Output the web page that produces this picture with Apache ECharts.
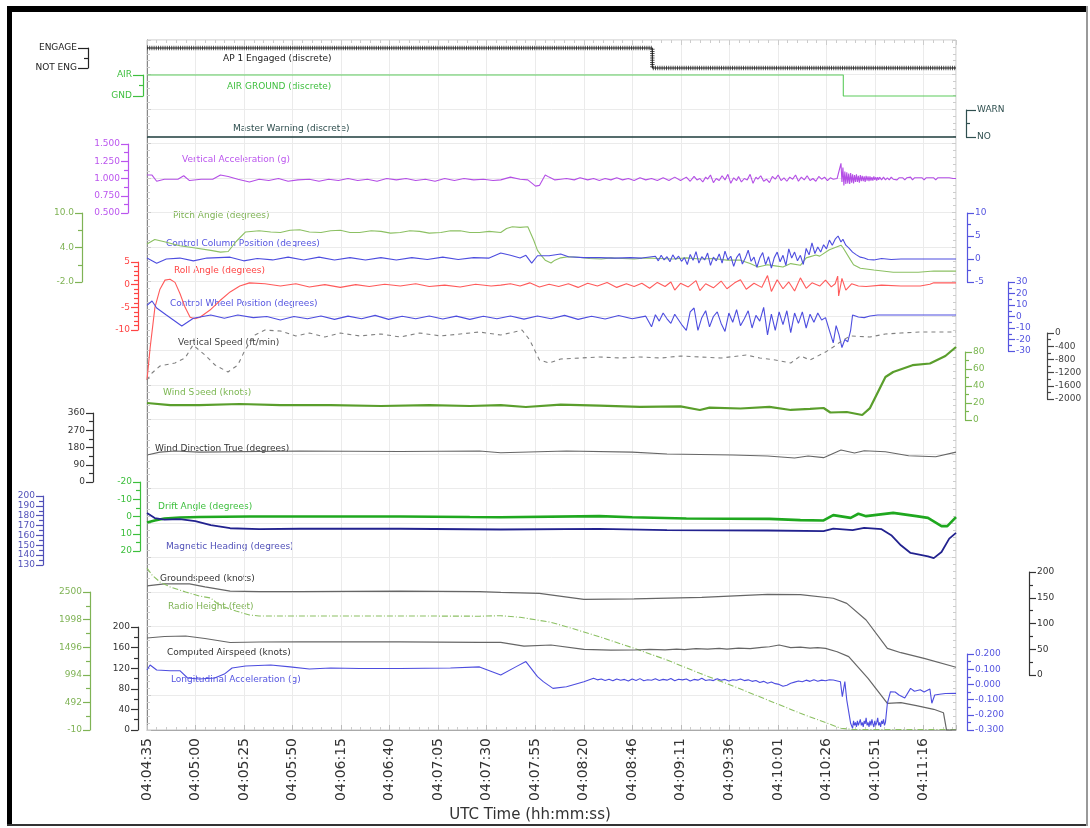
<!DOCTYPE html>
<html>
<head>
<meta charset="utf-8">
<title>Flight data recorder plot</title>
<script src="https://cdn.jsdelivr.net/npm/echarts@6/dist/echarts.min.js"></script>
<style>
html, body { margin: 0; padding: 0; background: #fff; }
#chart { width: 1090px; height: 828px; }
</style>
</head>
<body>
<div id="chart"></div>
<script>
// x values are seconds after 04:04:35 UTC
const startSec = 4 * 3600 + 4 * 60 + 35;
const tickStep = 25.105;
const timeMax = 418.5;

const apEngaged = [[0, 1], [261.4, 1], [261.4, 0], [418.5, 0]];
const airGround = [[0, 1], [360.2, 1], [360.2, 0], [418.5, 0]];
const masterWarning = [[0, 0], [418.5, 0]];

const vertAccel = [[0,1.05],[2.6,1.05],[5,0.96],[9,0.99],[16,0.99],[19,1.04],[22,0.97],[28,0.99],[34,0.99],[38,1.05],[42,1.03],[47,0.99],[53,0.95],[58,0.99],[63,0.97],[68,1.0],[73,0.96],[78,0.98],[84,0.99],[89,0.96],[94,0.99],[99,0.97],[104,1.0],[109,0.97],[114,0.99],[119,0.96],[124,1.0],[129,0.98],[134,1.0],[139,0.97],[144,0.99],[149,0.96],[154,1.0],[159,0.97],[164,1.0],[169,0.98],[174,0.99],[179,0.97],[183,0.98],[188,1.02],[193,0.99],[197,0.98],[201,0.89],[203,0.9],[206,1.05],[208,1.02],[211,0.98],[214,0.99],[217,1.0],[221,0.98],[224,1.01],[228,0.98],[231,1.0],[234,0.97],[237,1.0],[240,0.98],[243,1.01],[246,0.98],[249,1.0],[252,0.97],[255,1.01],[258,0.98],[261,1.0],[264,0.97],[267,1.01],[270,0.97],[273,1.02],[276,0.97],[279,1.02],
  [281,0.96],[283,1.03],[284.5,0.98],[286,1.0],[287.5,0.95],[289,1.02],[290,0.99],[291.5,1.05],[293,0.94],[294.5,1.0],[296,0.97],[297.5,1.04],[299,0.98],[300.5,1.06],[302,0.93],[303.5,1.01],[305,0.97],[306,1.03],[307.5,0.95],[309,1.0],[310.5,0.98],[312,1.06],[313.5,0.93],[315,1.02],[316,0.99],[317.5,1.04],[319,0.96],[320.5,0.99],[322,0.94],[323.5,1.03],[325,0.99],[326.5,1.05],[328,0.97],[329.5,1.01],[331,0.96],[332.5,1.02],[334,0.99],[335.5,1.05],[337,0.96],[338.5,1.02],[340,0.98],[341.5,1.04],[343,0.97],[344.5,1.0],[346,0.96],[347.5,1.03],[349,0.99],[350.5,1.02],[352,0.97],[353.5,1.01],[355,0.99],[357,1.0],[358,1.01],
  [359,1.22],[359.5,0.95],[360,1.16],[360.5,0.9],[361,1.1],[361.5,0.92],[362,1.09],[362.5,0.93],[363,1.07],[363.5,0.92],[364,1.08],[364.5,0.94],[365,1.06],[365.5,0.93],[366,1.05],[366.5,0.95],[367,1.06],[367.5,0.95],[368,1.04],[368.5,0.94],[369,1.05],[369.5,0.96],[370,1.04],[370.5,0.96],[371,1.03],[371.5,0.95],[372,1.04],[372.5,0.97],[373,1.03],[373.5,0.96],[374,1.03],[374.5,0.97],[375,1.02],[375.5,0.97],[376,1.03],[376.5,0.98],[377,1.02],[377.5,0.97],[378,1.02],[378.5,0.98],[379,1.02],[380,0.98],[381,1.02],[382,0.98],[383,1.01],[384,0.98],[385,1.02],[386,0.99],[387,1.01],[388,0.98],[389,1.01],[390,0.99],[391,1.01],[392,0.98],[393,1.01],[394,0.99],[395,1.02],[396,0.98],[397,1.01],[398,0.99],[399,1.01],[400,0.99],[401,1.01],[402,0.98],[403,1.01],[404,0.99],[405,1.01],[406,0.99],[407,1.01],[408,0.98],[409,1.01],[410,0.99],[411,1.01],[412,0.99],[413,1.01],[414,0.99],[415,1.01],[416,0.99],[417,1.0],[418.5,1.0]];

const pitchAngle = [[0,4.6],[4,5.4],[9,5.0],[17,4.3],[25,3.9],[33,3.5],[38,3.2],[42,3.3],[46,5.0],[51,6.7],[58,6.9],[64,6.7],[69,6.6],[74,7.0],[79,7.1],[84,6.7],[90,6.6],[95,6.9],[100,7.0],[105,6.6],[110,6.6],[116,6.9],[121,6.8],[126,6.5],[131,6.6],[136,6.9],[141,6.8],[146,6.5],[152,6.6],[157,6.9],[162,6.9],[167,6.6],[172,6.6],[177,6.8],[183,6.6],[186,7.3],[189,7.6],[193,7.5],[197,7.6],[200,5.3],[202,3.5],[204,2.6],[206,1.8],[209,1.3],[211,1.8],[214,2.2],[218,2.4],[223,2.3],[229,2.1],[235,2.0],[240,2.2],[246,2.1],[252,2.0],[258,2.2],[265,2.1],[272,2.0],[279,2.2],[286,2.0],[293,2.1],[300,1.8],[307,1.8],[312,1.2],[316,0.6],[321,1.0],[325,0.8],[329,0.6],[333,1.2],[338,0.9],[341,2.2],[346,2.7],[348,2.5],[353,3.6],[359,4.4],[360,4.0],[364,1.8],[365.5,1.0],[369,0.4],[376,0.1],[386,-0.3],[399,-0.3],[407,-0.1],[418.5,-0.1]];

const ctrlColumn = [[0,0.2],[5,-0.9],[10,0.0],[17,0.2],[24,-0.4],[31,0.2],[43,0.4],[50,-0.4],[57,0.1],[65,-0.2],[73,0.4],[81,-0.2],[89,0.4],[97,-0.2],[105,0.3],[113,-0.2],[121,0.3],[129,-0.2],[137,0.3],[145,-0.1],[153,0.4],[161,-0.1],[169,0.3],[177,0.2],[183,1.3],[188,0.8],[193,0.2],[196,0.8],[199,-0.9],[202,0.7],[208,0.7],[214,1.1],[218,0.5],[226,0.3],[234,0.3],[242,0.2],[250,0.3],[256,0.2],
  [263,0.6],[264.5,-0.4],[266,0.8],[267.5,-0.2],[269,0.5],[270.5,-0.6],[272,0.9],[273.5,-0.1],[275,0.6],[276.5,-0.5],[278,0.3],[279.5,-1.2],[281,1.0],[282.5,-0.3],[284,1.6],[285.5,-0.9],[287,0.5],[288.5,-0.2],[290,1.3],[291.5,-1.4],[293,0.4],[294.5,-0.4],[296,1.1],[297.5,-0.9],[299,1.7],[300.5,-0.2],[302,0.6],[303.5,-1.6],[305,0.3],[306.5,1.2],[308,-1.1],[309.5,0.2],[311,1.9],[312.5,-0.5],[314,0.4],[315.5,-1.8],[317,0.2],[318.5,1.4],[320,-1.2],[321.5,0.5],[323,-2.0],[324.5,0.3],[326,1.5],[327.5,-0.6],[329,0.8],[330.5,-1.4],[332,2.2],[333.5,0.2],[335,1.5],[336.5,-0.4],[338,0.8],[339.5,-1.2],[341,2.3],[342.5,0.9],[344,3.5],[345.5,1.2],[347,2.6],[348.5,1.5],[350,3.1],[351.5,2.2],[353,4.1],[354.5,3.0],[356,4.3],[357.5,5.0],[359,3.7],[360,4.3],[361.5,3.0],[363,2.4],[365,1.5],[367,0.9],[369,0.4],[371,0.2],[373,-0.1],[376,-0.2],[380,0.1],[385,-0.1],[390,0.0],[400,0.0],[418.5,0.0]];

const rollAngle = [[0,-21],[1.6,-14],[4.1,-5],[6.7,-1],[9.3,1.0],[11.9,1.2],[14.5,0.5],[17.1,-2],[19.7,-5],[22.3,-7.2],[24.8,-7.5],[27.4,-7.2],[32.6,-5.6],[37.8,-3.5],[43,-1.6],[48,-0.3],[53,0.4],[61,0.2],[69,-0.3],[77,0.2],[84,-0.5],[92,0],[100,-0.6],[108,0],[115,-0.4],[123,0.1],[131,-0.3],[139,0.2],[146,-0.4],[154,-0.1],[162,-0.5],[170,0.1],[178,-0.3],[183,-0.1],[188,0.2],[193,-0.3],[198,0.4],[203,-0.5],[208,0.1],[213,-0.4],[218,0.2],[223,-0.6],[228,0.3],[233,-0.3],[238,0.5],[243,-0.6],[248,0.2],[252,-0.4],[256,0.3],[260,-0.8],[264,0.5],[268,-0.4],[271,0.6],[273,-1.2],[276,0.3],[280,-0.5],[284,0.9],[286,-1.3],[289,0.2],[293,-0.7],[297,0.8],[300,-0.9],[304,0.4],[307,1.1],[310,-1.0],[314,0.3],[318,-0.6],[321,2.0],[323,-1.5],[326,1.1],[329,-0.9],[332,0.6],[335,-1.4],[338,1.5],[341,-0.8],[344,0.4],[348,-0.3],[351,1.0],[354,-0.5],[356,0.2],[357.3,1.9],[357.8,-2.5],[359.5,1.4],[361.5,-1.2],[364.5,0.2],[368,-0.3],[372,-0.4],[380,-0.1],[390,-0.3],[400,-0.3],[405,0.1],[407,0.4],[418.5,0.4]];

const ctrlWheel = [[0,9.6],[2.6,13.5],[5,7.4],[10,1.3],[18,-8.3],[24,-1.5],[33,1.3],[40,-1.5],[47,1.3],[55,-1.0],[62,0.0],[69,-3.0],[76,0.0],[83,-2.0],[90,0.5],[97,-2.5],[104,0.3],[111,-2.0],[118,1.0],[125,-2.5],[132,0.2],[139,-2.0],[146,0.5],[153,-2.2],[160,0.3],[167,-2.5],[174,0.2],[181,-2.0],[188,0.5],[195,-2.3],[202,0.4],[209,-2.0],[216,1.0],[223,-2.5],[230,0.2],[237,-2.2],[244,0.8],[251,-2.0],[258,0.3],
  [261,-9],[263,1.5],[265,-4],[267,3],[269,-2],[271,-6],[273,2],[275,-3],[277,-8],[279,-12],[281,4],[283,7.4],[285,-12],[287,-1],[289,5],[291,-9],[293,0],[295,4],[297,-6],[299,-13],[301,3],[303,-5],[305,6],[307,-8],[309,-2],[311,5],[313,-10],[315,1],[317,-4],[319,8],[321,-16],[323,2],[325,-12],[327,4],[329,-7],[331,5],[333,-14],[335,3],[337,-6],[339,4],[341,-10],[343,2],[345,-5],[347,3],[349,-3],[351,-1],[353,-12],[355,-23],[356.5,-8],[358,-16],[359.5,-27],[361,-20],[362.5,-22],[364,-12],[365,1.3],[368,-0.5],[371,-1],[374,0.5],[378,1.3],[385,1.3],[418.5,1.3]];

const vertSpeed = [[0,-1424],[2.6,-1212],[6.7,-1000],[14.5,-909],[19.7,-758],[23.8,-364],[30,-667],[35.2,-970],[41.9,-1182],[47,-970],[50.7,-515],[55.9,-60],[61,90],[69,60],[77,-90],[84,0],[92,-121],[100,0],[110,-90],[121,-30],[131,-121],[141,0],[152,-90],[162,-30],[172,30],[183,-60],[190,30],[194,90],[198,-212],[203,-818],[208,-909],[214,-788],[224,-758],[234,-727],[245,-758],[255,-727],[266,-758],[276,-697],[286,-727],[297,-758],[310,-667],[317,-758],[325,-818],[333,-909],[338,-697],[343,-818],[351,-576],[355,-424],[360,-212],[364,-90],[374,-121],[382,-30],[390,0],[400,30],[418.5,30]];

const windSpeed = [[0,20],[12,17.6],[27,17.6],[48,18.8],[69,17.6],[95,17.6],[121,16.5],[146,17.6],[167,16.5],[183,17.6],[196,15.3],[214,18.2],[234,17.0],[255,15.5],[276,16.0],[286,11.8],[291,14.5],[307,13.5],[322,15.5],[333,11.8],[343,13.0],[350,14.1],[353.5,8.8],[362,9.4],[370,5.9],[374,14],[382,50.6],[386,56.5],[396,64.5],[405,66.5],[413,75.3],[418.5,85.9]];

const windDir = [[0,141],[6.7,156],[14.5,162],[27,156],[79,162],[131,159],[172,162],[183,153],[217,162],[251,156],[269,146],[303,141],[321,136],[335,125],[342,136],[350,127],[359,167],[366,151],[371,163],[382,158],[394,137],[408,132],[418.5,156]];

const driftAngle = [[0,3.5],[4,2.3],[9,1.2],[17,0.6],[27,0.3],[53,0],[79,0],[131,0],[167,0.3],[183,0.4],[234,-0.2],[251,0.4],[279,1.2],[322,1.4],[338,2.1],[350,2.3],[355,-0.8],[364,0.8],[368,-1.6],[372,-0.2],[386,-2.1],[398,-0.2],[404,0.8],[411,5.6],[414,5.6],[418.5,0.4]];

const magHeading = [[0,182.7],[4,177.6],[9,176],[17,176.5],[25,174.5],[33,170.4],[43,167.3],[58,166.3],[79,166.8],[131,166.8],[183,166],[234,166.7],[269,165.3],[321,165],[350,164.3],[355,167],[365,165.3],[371,167.7],[380,166.3],[385,160.2],[390,150],[395,142.2],[404,138.8],[407,137],[411,143.2],[415,156.8],[418.5,162.6]];

const groundSpeed = [[0,173],[9,177],[22,177],[30,171],[43,163],[58,162],[79,162],[131,163],[172,162],[183,160.6],[203,158.6],[226,147],[252,148],[287,150.8],[321,156.7],[338,156],[355,149],[362,139],[372,106.8],[383,51.8],[390,43.3],[402,32.4],[418.5,15]];

const radioHeight = [[0,2937],[2.6,2809],[6.7,2682],[12,2591],[20,2500],[27,2427],[33,2391],[36,2300],[40,2227],[46,2154],[53,2082],[58,2064],[131,2064],[172,2060],[183,2069],[193,2040],[209,1949],[217,1869],[234,1687],[252,1476],[269,1263],[286,1021],[304,778],[321,536],[338,294],[352,112],[359,21],[365,0],[418.5,0]];

const airspeed = [[0,178.6],[9,181.6],[20,182.5],[30,177.7],[43,169.9],[58,170.9],[79,171],[131,171],[172,170],[183,170.3],[195,163],[209,165],[226,156.7],[240,155],[252,155.3],[260,156.5],[268,155.5],[274,157],[278,156],[284,158],[290,157],[296,158.5],[300,157],[306,159],[312,158],[318,160.5],[322,161.7],[327,165],[333,160],[338,161],[343,159],[347,160],[351,158.6],[357,152],[363,142.4],[373,100.4],[383,51.8],[390,53],[398,47.2],[407,40.2],[412,33.6],[413,33],[413.6,0],[418.5,0]];

const longAccel = [[0,0.095],[1.6,0.128],[2.6,0.128],[5,0.095],[12,0.09],[17,0.09],[21,0.042],[27,0.036],[35,0.042],[40,0.068],[44,0.108],[51,0.121],[64,0.128],[74,0.115],[84,0.101],[95,0.108],[110,0.105],[131,0.105],[157,0.108],[172,0.115],[183,0.062],[191,0.117],[196,0.15],[202,0.051],[205,0.018],[210,-0.026],[217,-0.015],[226,0.018],
  [231,0.04],[233,0.03],[235,0.036],[237,0.026],[239,0.034],[241,0.024],[243,0.036],[245,0.027],[247,0.033],[249,0.022],[251,0.035],[253,0.026],[255,0.038],[257,0.024],[259,0.031],[261,0.027],[263,0.037],[265,0.025],[267,0.033],[269,0.028],[271,0.039],[273,0.024],[275,0.034],[277,0.03],[279,0.036],[281,0.022],[283,0.033],[285,0.028],[287,0.04],[289,0.026],[291,0.031],[293,0.025],[295,0.037],[297,0.027],[299,0.033],[301,0.022],[303,0.031],[305,0.027],[307,0.035],[309,0.025],[311,0.03],[313,0.02],[315,0.026],[317,0.012],[319,0.02],[321,0.008],[323,0.016],[325,0.005],[327,0.0],[329,-0.012],[331,-0.005],[333,0.008],[335,0.015],[337,0.022],[339,0.017],[341,0.028],[343,0.02],[345,0.03],[347,0.021],[349,0.028],[351,0.024],[353,0.031],[355,0.029],
  [358.7,0.018],[359.7,-0.081],[361,0.018],[362,-0.103],[364,-0.256],[365,-0.289],[365.5,-0.24],[366,-0.27],[366.5,-0.25],[367,-0.28],[367.5,-0.24],[368,-0.27],[368.5,-0.26],[369,-0.23],[369.5,-0.27],[370,-0.25],[370.5,-0.28],[371,-0.24],[371.5,-0.26],[372,-0.22],[372.5,-0.27],[373,-0.25],[373.5,-0.28],[374,-0.24],[374.5,-0.27],[375,-0.23],[375.5,-0.26],[376,-0.28],[376.5,-0.24],[377,-0.27],[377.5,-0.25],[378,-0.22],[378.5,-0.27],[379,-0.25],[379.5,-0.28],[380,-0.24],[380.5,-0.26],[381,-0.23],[381.5,-0.27],[382,-0.25],[382.5,-0.26],
  [383,-0.124],[384.6,-0.048],[387,-0.05],[389,-0.07],[392,-0.09],[395,-0.026],[397,-0.045],[400,-0.035],[402,-0.05],[405,-0.03],[406,-0.124],[407.5,-0.07],[410,-0.065],[413,-0.06],[418.5,-0.059]];

const FONT = '"DejaVu Sans", Verdana, sans-serif';

function pad(n) { return (n < 10 ? '0' : '') + n; }
function fmtTime(v) {
  const s = startSec + Math.floor(v + 1e-6);
  return pad(Math.floor(s / 3600)) + ':' + pad(Math.floor((s % 3600) / 60)) + ':' + pad(s % 60);
}
function fixed(n) { return v => (Math.abs(v) < 1e-9 ? 0 : v).toFixed(n); }
function named(map) { return v => (map[v] !== undefined ? map[v] : ''); }

// one strip per trace: band in px, axis side/offset, range
const panels = [
  { name: 'AP 1 Engaged (discrete)', data: apEngaged, color: '#1a1a1a', axis: '#222', side: 'left', offset: 59, top: 48, height: 20, min: 0, max: 1, interval: 1, minor: 2, fmt: named({1: 'ENGAGE', 0: 'NOT ENG'}), tick: 10, text: [223, 59], hatch: true },
  { name: 'AIR GROUND (discrete)', data: airGround, color: '#5ccc5c', axis: '#3fbf3f', side: 'left', offset: 4, top: 75, height: 21, min: 0, max: 1, interval: 1, minor: 2, fmt: named({1: 'AIR', 0: 'GND'}), tick: 10, text: [227, 87] },
  { name: 'Master Warning (discrete)', data: masterWarning, color: '#1d3b3b', axis: '#2f4f4f', side: 'right', offset: 10, top: 110, height: 27, min: 0, max: 1, interval: 1, minor: 2, fmt: named({1: 'WARN', 0: 'NO'}), tick: 10, width: 1.6, text: [233, 129] },
  { name: 'Vertical Acceleration (g)', data: vertAccel, color: '#b44ee6', axis: '#bb55ee', side: 'left', offset: 19, top: 144, height: 69, min: 0.5, max: 1.5, interval: 0.25, minor: 2, fmt: fixed(3), text: [182, 160] },
  { name: 'Pitch Angle (degrees)', data: pitchAngle, color: '#8cc063', axis: '#7fb355', side: 'left', offset: 65, top: 213, height: 69, min: -2, max: 10, interval: 6, minor: 2, fmt: fixed(1), text: [173, 216] },
  { name: 'Control Column Position (degrees)', data: ctrlColumn, color: '#4d4ddf', axis: '#5555e0', side: 'right', offset: 11, top: 213, height: 69, min: -5, max: 10, interval: 5, minor: 2, fmt: fixed(0), text: [166, 244] },
  { name: 'Roll Angle (degrees)', data: rollAngle, color: '#ff5a5a', axis: '#ff4444', side: 'left', offset: 9, top: 262, height: 68, min: -10, max: 5, interval: 5, minor: 5, fmt: fixed(0), text: [174, 271] },
  { name: 'Control Wheel Position (degrees)', data: ctrlWheel, color: '#4d4ddf', axis: '#5555e0', side: 'right', offset: 52, top: 282, height: 69, min: -30, max: 30, interval: 10, minor: 2, fmt: fixed(0), text: [170, 304] },
  { name: 'Vertical Speed (ft/min)', data: vertSpeed, color: '#808080', axis: '#444', side: 'right', offset: 91, top: 333, height: 66, min: -2000, max: 0, interval: 400, minor: 2, fmt: fixed(0), dash: [4, 4], text: [178, 343] },
  { name: 'Wind Speed (knots)', data: windSpeed, color: '#5a9e2c', axis: '#7ab650', side: 'right', offset: 9, top: 352, height: 68, min: 0, max: 80, interval: 20, minor: 2, fmt: fixed(0), width: 2.2, text: [163, 393] },
  { name: 'Wind Direction True (degrees)', data: windDir, color: '#666', axis: '#333', side: 'left', offset: 54, top: 413, height: 69, min: 0, max: 360, interval: 90, minor: 2, fmt: fixed(0), text: [155, 449] },
  { name: 'Drift Angle (degrees)', data: driftAngle, color: '#1fa81f', axis: '#3cbf3c', side: 'left', offset: 7, top: 482, height: 69, min: -20, max: 20, interval: 10, minor: 2, inverse: true, fmt: fixed(0), width: 2.6, text: [158, 507] },
  { name: 'Magnetic Heading (degrees)', data: magHeading, color: '#22228f', axis: '#5050b8', side: 'left', offset: 104, top: 496, height: 69, min: 130, max: 200, interval: 10, minor: 2, fmt: fixed(0), width: 1.8, text: [166, 547] },
  { name: 'Groundspeed (knots)', data: groundSpeed, color: '#666', axis: '#333', side: 'right', offset: 73, top: 572, height: 103, min: 0, max: 200, interval: 50, minor: 2, fmt: fixed(0), width: 1.2, text: [160, 579] },
  { name: 'Radio Height (feet)', data: radioHeight, color: '#8cc063', axis: '#7fb355', side: 'left', offset: 57, top: 592, height: 138, min: -10, max: 2500, interval: 502, minor: 2, fmt: fixed(0), dash: [6, 2, 1, 2], text: [168, 607] },
  { name: 'Computed Airspeed (knots)', data: airspeed, color: '#666', axis: '#333', side: 'left', offset: 9, top: 627, height: 103, min: 0, max: 200, interval: 40, minor: 2, fmt: fixed(0), width: 1.2, text: [167, 653] },
  { name: 'Longitudinal Acceleration (g)', data: longAccel, color: '#4d4ddf', axis: '#5555e0', side: 'right', offset: 11, top: 654, height: 76, min: -0.3, max: 0.2, interval: 0.1, minor: 2, fmt: fixed(3), text: [171, 680] }
];

const grids = [{ left: 147, right: 134, top: 40, height: 690, show: true, borderColor: '#c4c4c4', borderWidth: 1 }];
const xAxes = [
  {
    gridIndex: 0, type: 'value', position: 'bottom', min: 0, max: timeMax, interval: tickStep,
    axisLine: { show: true, onZero: false, lineStyle: { color: '#aaa' } },
    axisTick: { show: true, inside: true, length: 5, lineStyle: { color: '#bbb' } },
    minorTick: { show: true, splitNumber: 5, length: 3, lineStyle: { color: '#ccc' } },
    splitLine: { show: true, lineStyle: { color: '#ebebeb' } },
    axisLabel: { rotate: 90, margin: 8, fontSize: 14, color: '#333', fontFamily: FONT, formatter: fmtTime, showMaxLabel: false }
  },
  {
    gridIndex: 0, type: 'value', position: 'top', min: 0, max: timeMax, interval: tickStep,
    axisLine: { show: false, onZero: false },
    axisTick: { show: true, inside: true, length: 5, lineStyle: { color: '#ccc' } },
    minorTick: { show: true, splitNumber: 5, length: 3, lineStyle: { color: '#ccc' } },
    axisLabel: { show: false }, splitLine: { show: false }
  }
];
const yAxes = [
  {
    gridIndex: 0, type: 'value', position: 'left', min: 0, max: 20, interval: 1,
    axisLine: { show: true, onZero: false, lineStyle: { color: '#888' } },
    axisTick: { show: true, inside: true, length: 4, lineStyle: { color: '#ccc' } },
    minorTick: { show: true, splitNumber: 5, length: 3, lineStyle: { color: '#ccc' } },
    splitLine: { show: true, lineStyle: { color: '#ebebeb' } },
    axisLabel: { show: false }
  },
  {
    gridIndex: 0, type: 'value', position: 'right', min: 0, max: 20, interval: 1,
    axisLine: { show: false, onZero: false },
    axisTick: { show: true, inside: true, length: 4, lineStyle: { color: '#ccc' } },
    minorTick: { show: true, splitNumber: 5, length: 3, lineStyle: { color: '#ccc' } },
    splitLine: { show: false }, axisLabel: { show: false }
  }
];
const series = [];
const texts = [];

panels.forEach((p, i) => {
  const gi = i + 1;
  const tick = p.tick || 7;
  grids.push({ left: 147, right: 134, top: p.top, height: p.height });
  xAxes.push({ gridIndex: gi, type: 'value', min: 0, max: timeMax, show: false });
  const xi = xAxes.length - 1;
  yAxes.push({
    gridIndex: gi, type: 'value', position: p.side, offset: p.offset,
    min: p.min, max: p.max, interval: p.interval, inverse: !!p.inverse,
    axisLine: { show: true, onZero: false, lineStyle: { color: p.axis, width: 1.2 } },
    axisTick: { show: true, length: tick, lineStyle: { color: p.axis, width: 1.2 } },
    minorTick: { show: true, splitNumber: p.minor, length: 4, lineStyle: { color: p.axis, width: 1.2 } },
    splitLine: { show: false },
    axisLabel: { color: p.axis, fontSize: 9, fontFamily: FONT, margin: tick + 1, formatter: p.fmt, showMinLabel: true, showMaxLabel: true }
  });
  const yi = yAxes.length - 1;
  if (p.hatch) {
    series.push({
      type: 'line', xAxisIndex: xi, yAxisIndex: yi, data: p.data, showSymbol: false, clip: false,
      silent: true, animation: false,
      lineStyle: { color: '#555', width: 4.5, type: [1, 1.2] }
    });
  }
  series.push({
    name: p.name, type: 'line', xAxisIndex: xi, yAxisIndex: yi, data: p.data,
    showSymbol: false, clip: false, silent: true, animation: false,
    lineStyle: { color: p.color, width: p.width || 1.1, type: p.dash || 'solid' }
  });
  texts.push({
    type: 'text', x: p.text[0], y: p.text[1], silent: true,
    style: { text: p.name, fill: p.axis, font: '9px ' + FONT, verticalAlign: 'middle' }
  });
});

const frame = [
  { type: 'rect', shape: { x: 7, y: 6, width: 1081, height: 6 }, style: { fill: '#000' } },
  { type: 'rect', shape: { x: 7, y: 6, width: 5, height: 820 }, style: { fill: '#000' } },
  { type: 'rect', shape: { x: 7, y: 824, width: 1081, height: 2 }, style: { fill: '#333' } },
  { type: 'rect', shape: { x: 1086, y: 6, width: 2, height: 820 }, style: { fill: '#999' } },
  { type: 'text', x: 530, y: 815, style: { text: 'UTC Time (hh:mm:ss)', fill: '#333', font: '15px ' + FONT, align: 'center', verticalAlign: 'middle' } }
];

const chart = echarts.init(document.getElementById('chart'));
chart.setOption({
  backgroundColor: '#fff',
  animation: false,
  grid: grids,
  xAxis: xAxes,
  yAxis: yAxes,
  series: series,
  graphic: frame.concat(texts)
});
</script>
</body>
</html>
